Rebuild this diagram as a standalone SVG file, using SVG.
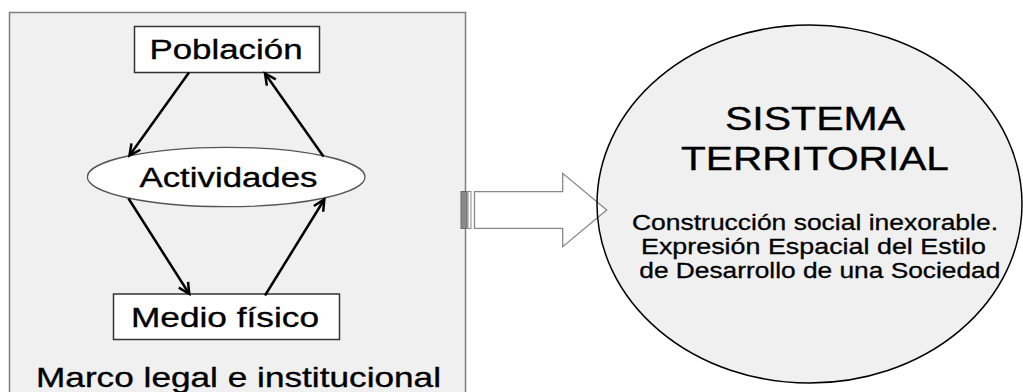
<svg xmlns="http://www.w3.org/2000/svg" width="1023" height="392" viewBox="0 0 1023 392">
<style>
text { font-family: "Liberation Sans", Arial, sans-serif; fill: #000; stroke: #000; stroke-width: 0.35; }
.big { font-size: 28px; }
.title { font-size: 32.5px; }
.small { font-size: 22px; stroke-width: 0.3; }
.box { fill: #fff; stroke: #333; stroke-width: 1.5; }
.edge { stroke: #000; stroke-width: 2.5; fill: none; marker-end: url(#head); }
</style>
<defs>
<marker id="head" markerUnits="userSpaceOnUse" markerWidth="16" markerHeight="16" viewBox="-13 -8 16 16" refX="0" refY="0" orient="auto">
<path d="M-11,-5.5 L0,0 L-11,5.5" fill="none" stroke="#000" stroke-width="2.5" stroke-linejoin="miter"/>
</marker>
</defs>
<rect width="1023" height="392" fill="#fff"/>
<g id="marco">
<rect x="9.5" y="12.5" width="456" height="400" fill="#f0f0f0" stroke="#7f7f7f" stroke-width="1.5"/>
<text class="big" transform="translate(36,386.7) scale(1.25,1)" x="0" y="0" textLength="324" lengthAdjust="spacingAndGlyphs">Marco legal e institucional</text>
</g>
<g id="poblacion">
<rect class="box" x="134.5" y="26.5" width="185" height="46"/>
<text class="big" transform="translate(149.5,59.3) scale(1.24,1)" x="0" y="0" textLength="123.4" lengthAdjust="spacingAndGlyphs">Población</text>
</g>
<g id="actividades">
<ellipse cx="226.2" cy="177" rx="138.8" ry="29.7" fill="#fff" stroke="#555" stroke-width="1.3"/>
<text class="big" transform="translate(139.5,186.7) scale(1.24,1)" x="0" y="0" textLength="143.5" lengthAdjust="spacingAndGlyphs">Actividades</text>
</g>
<g id="medio">
<rect class="box" x="113.5" y="294" width="226" height="45.5"/>
<text class="big" transform="translate(131,326.7) scale(1.24,1)" x="0" y="0" textLength="151.6" lengthAdjust="spacingAndGlyphs">Medio físico</text>
</g>
<g id="sistema">
<ellipse cx="809.5" cy="204" rx="212.5" ry="179" fill="#f0f0f0" stroke="none"/>
<text class="title" transform="translate(725,130) scale(1.24,1)" x="0" y="0" textLength="145.2" lengthAdjust="spacingAndGlyphs">SISTEMA</text>
<text class="title" transform="translate(681,170) scale(1.24,1)" x="0" y="0" textLength="216.1" lengthAdjust="spacingAndGlyphs">TERRITORIAL</text>
<text class="small" transform="translate(632,230) scale(1.2,1)" x="0" y="0" textLength="305" lengthAdjust="spacingAndGlyphs">Construcción social inexorable.</text>
<text class="small" transform="translate(641,253.5) scale(1.2,1)" x="0" y="0" textLength="287.5" lengthAdjust="spacingAndGlyphs">Expresión Espacial del Estilo</text>
<text class="small" transform="translate(639.3,278) scale(1.2,1)" x="0" y="0" textLength="300.8" lengthAdjust="spacingAndGlyphs">de Desarrollo de una Sociedad</text>
</g>
<g id="connectors">
<line class="edge" x1="189" y1="72.5" x2="129.5" y2="155.5"/>
<line class="edge" x1="323.5" y1="156.5" x2="265" y2="73.5"/>
<line class="edge" x1="128.5" y1="198.5" x2="189.3" y2="294"/>
<line class="edge" x1="265" y1="295.5" x2="324.3" y2="199.5"/>
<g id="block-arrow">
<rect x="461" y="191.5" width="6" height="37" fill="#8a8a8a" stroke="#6a6a6a" stroke-width="1"/>
<rect x="468" y="191.5" width="3" height="37" fill="#fff" stroke="#888" stroke-width="1"/>
<polygon points="474.5,191.7 562.7,191.7 562.7,173.3 606.7,210 562.7,246.7 562.7,228.3 474.5,228.3" fill="#fff" stroke="#888" stroke-width="1.3" stroke-linejoin="miter"/>
</g>
</g>
<ellipse cx="809.5" cy="204" rx="212.5" ry="179" fill="none" stroke="#000" stroke-width="1.5"/>
</svg>
